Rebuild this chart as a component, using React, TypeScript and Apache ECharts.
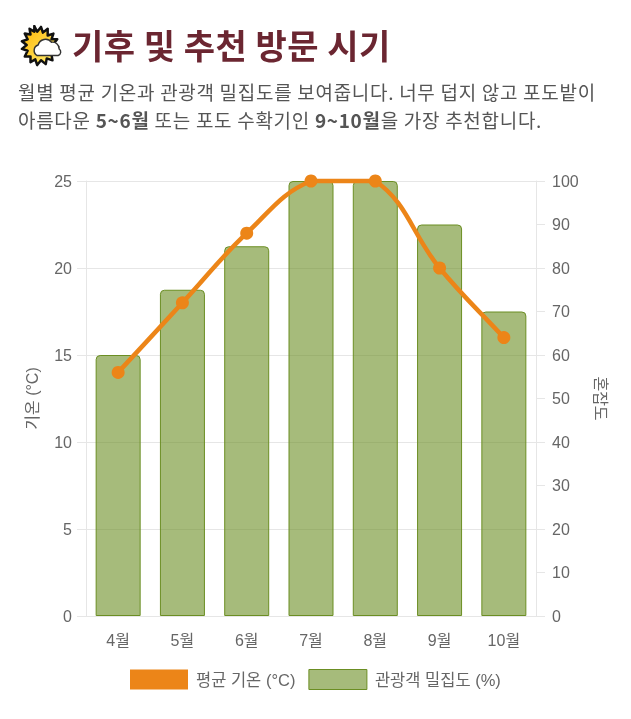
import React, { useEffect, useRef } from 'react';
import * as echarts from 'echarts';

const months = ['4월', '5월', '6월', '7월', '8월', '9월', '10월'];
const avgTemp = [14, 18, 22, 25, 25, 20, 16];
const crowding = [60, 75, 85, 100, 100, 90, 70];
const tempName = '평균 기온 (°C)';
const crowdName = '관광객 밀집도 (%)';

const FONT = '"Noto Sans CJK KR", "Open Sans", sans-serif';
const CHART_FONT = '"Liberation Sans", "Noto Sans CJK KR", sans-serif';
const ORANGE = '#ec8518';
const GRID = '#e6e6e6';
const TEXT = '#666666';
const TENSION = 0.4;

const sunRays =
  '14,1 17,7 21,2 23,8 28,4 28,11 34,9 32,15 38,15 34,20 39,23 34,26 38,31 32,31 33,37 27,35 26,41 21,37 17,42 15,36 10,39 10,33 4,33 7,27 1,25 6,21 1,17 7,15 4,9 10,10 9,4 14,7';

// the line keeps the tangents through each point, capped to the plot area
const renderTempLine = (params: any, api: any) => {
  const i = params.dataIndex;
  const pt = (k: number) => {
    const idx = Math.max(0, Math.min(avgTemp.length - 1, k));
    return api.coord([idx, avgTemp[idx]]);
  };
  const top = params.coordSys.y;
  const bottom = params.coordSys.y + params.coordSys.height;
  const cap = (y: number) => Math.max(top, Math.min(bottom, y));
  const controls = (k: number) => {
    const [px, py] = pt(k - 1);
    const [x, y] = pt(k);
    const [nx, ny] = pt(k + 1);
    const d01 = Math.hypot(x - px, y - py);
    const d12 = Math.hypot(nx - x, ny - y);
    const sum = d01 + d12 || 1;
    const fa = (TENSION * d01) / sum;
    const fb = (TENSION * d12) / sum;
    return {
      prev: [x - fa * (nx - px), cap(y - fa * (ny - py))],
      next: [x + fb * (nx - px), cap(y + fb * (ny - py))],
    };
  };
  const [x, y] = pt(i);
  const children: any[] = [];
  if (i < avgTemp.length - 1) {
    const [nx, ny] = pt(i + 1);
    const c1 = controls(i).next;
    const c2 = controls(i + 1).prev;
    children.push({
      type: 'bezierCurve',
      shape: { x1: x, y1: y, x2: nx, y2: ny, cpx1: c1[0], cpy1: c1[1], cpx2: c2[0], cpy2: c2[1] },
      style: { stroke: ORANGE, lineWidth: 4.5, fill: 'none' },
    });
  }
  children.push({ type: 'circle', shape: { cx: x, cy: y, r: 6.5 }, style: { fill: ORANGE } });
  return { type: 'group', children };
};

const App: React.FC = () => {
  const chartRef = useRef<HTMLDivElement>(null);

  useEffect(() => {
    if (!chartRef.current) return;
    const chart = echarts.init(chartRef.current, undefined, { renderer: 'svg' });
    chart.setOption({
      animation: false,
      textStyle: { fontFamily: CHART_FONT },
      grid: { left: 86, right: 95, top: 31, bottom: 103, containLabel: false },
      legend: {
        top: 514,
        left: 125,
        itemWidth: 58,
        itemHeight: 20,
        itemGap: 13,
        icon: 'rect',
        textStyle: { color: TEXT, fontSize: 16.5, fontFamily: CHART_FONT, padding: [0, 0, 0, 3] },
        data: [
          { name: tempName, itemStyle: { color: ORANGE, borderWidth: 0 } },
          { name: crowdName, itemStyle: { color: 'rgba(107,142,35,0.6)', borderColor: '#6b8e23', borderWidth: 1 } },
        ],
      },
      xAxis: {
        type: 'category',
        data: months,
        axisLine: { lineStyle: { color: GRID, width: 1 } },
        axisTick: { show: false },
        axisLabel: { color: TEXT, fontSize: 16, margin: 16, fontFamily: CHART_FONT },
      },
      yAxis: [
        {
          type: 'value',
          min: 0,
          max: 25,
          interval: 5,
          name: '기온 (°C)',
          nameLocation: 'middle',
          nameGap: 46,
          nameTextStyle: { color: TEXT, fontSize: 16, fontFamily: CHART_FONT },
          axisLine: { show: true, lineStyle: { color: GRID } },
          axisTick: { show: true, length: 9, lineStyle: { color: GRID } },
          axisLabel: { color: TEXT, fontSize: 16, margin: 14, fontFamily: CHART_FONT },
          splitLine: { show: true, lineStyle: { color: GRID } },
        },
        {
          type: 'value',
          min: 0,
          max: 100,
          interval: 10,
          name: '혼잡도',
          nameLocation: 'middle',
          nameGap: 56,
          nameRotate: -90,
          nameTextStyle: { color: TEXT, fontSize: 16, fontFamily: CHART_FONT },
          axisLine: { show: true, lineStyle: { color: GRID } },
          axisTick: { show: true, length: 9, lineStyle: { color: GRID } },
          axisLabel: { color: TEXT, fontSize: 16, margin: 16, fontFamily: CHART_FONT },
          splitLine: { show: false },
        },
      ],
      series: [
        {
          name: crowdName,
          type: 'bar',
          yAxisIndex: 1,
          barWidth: 45,
          data: crowding,
          z: 2,
          itemStyle: {
            color: 'rgba(107,142,35,0.6)',
            borderColor: '#6b8e23',
            borderWidth: 1,
            borderRadius: [4, 4, 0, 0],
          },
        },
        {
          name: tempName,
          type: 'custom',
          yAxisIndex: 0,
          data: avgTemp.map((v, i) => [i, v]),
          encode: { x: 0, y: 1 },
          z: 3,
          itemStyle: { color: ORANGE },
          renderItem: renderTempLine,
        },
      ],
    });
    return () => chart.dispose();
  }, []);

  return (
    <div style={{ position: 'absolute', left: 0, top: 0, width: 631, height: 719, background: '#fff', overflow: 'hidden', fontFamily: FONT, filter: 'blur(0.4px)' }}>
      <svg width={42} height={42} viewBox="0 0 42 44" style={{ position: 'absolute', left: 20, top: 25 }}>
        <defs>
          <linearGradient id="sun" x1="0" y1="0" x2="1" y2="1">
            <stop offset="0" stopColor="#ffb400" />
            <stop offset="1" stopColor="#fff27a" />
          </linearGradient>
        </defs>
        <polygon points={sunRays} fill="url(#sun)" stroke="#111" strokeWidth={2.6} strokeLinejoin="round" />
        <path d="M17 32 a6 6 0 0 1 1 -11 a8 8 0 0 1 14 -3 a7 7 0 0 1 8 7 a4 4 0 0 1 -1 7 z" fill="#fff" stroke="#333" strokeWidth={1.5} />
      </svg>
      <div style={{ position: 'absolute', left: 72, top: 20, fontSize: 34, fontWeight: 700, letterSpacing: 0.5, color: '#6b2631', lineHeight: '50px', whiteSpace: 'nowrap' }}>
        기후 및 추천 방문 시기
      </div>
      <div style={{ position: 'absolute', left: 18, top: 78, width: 613, fontSize: 19, letterSpacing: 0.7, color: '#555', lineHeight: '28px', whiteSpace: 'nowrap' }}>
        월별 평균 기온과 관광객 밀집도를 보여줍니다. 너무 덥지 않고 포도밭이
        <br />
        아름다운 <b>5~6월</b> 또는 포도 수확기인 <b>9~10월</b>을 가장 추천합니다.
      </div>
      <div ref={chartRef} style={{ position: 'absolute', left: 0, top: 150, width: 631, height: 569 }} />
    </div>
  );
};

export default App;
